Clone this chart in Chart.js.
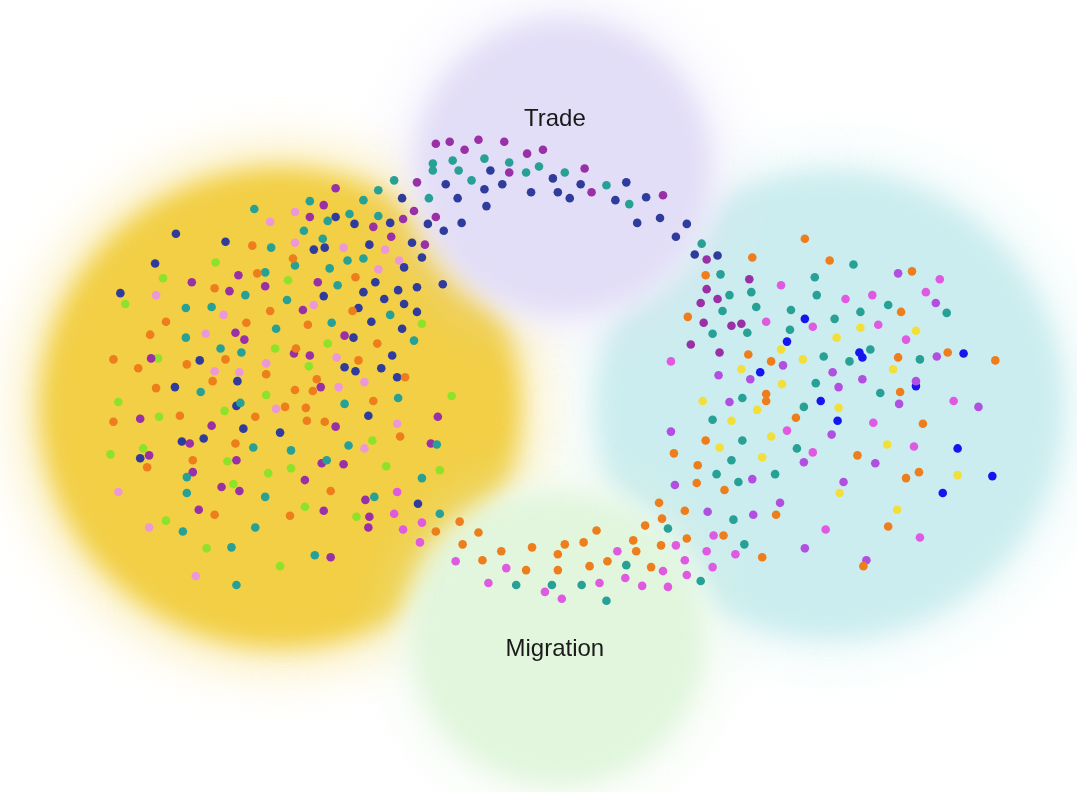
<!DOCTYPE html>
<html><head><meta charset="utf-8">
<script src="https://cdn.jsdelivr.net/npm/chart.js@4"></script>
<style>html,body{margin:0;padding:0;background:#fff;}canvas{display:block;}</style>
</head><body>
<canvas id="c" width="1077" height="792"></canvas>
<script>
// Background regions (data coordinates), in drawing order
const blobNames = ['Core','Partners','Trade','Migration'];
const blobX = [278, 832, 563, 558];
const blobY = [408, 405, 165, 641];
const blobR = [244, 238, 152, 150];
const blobColors = ['#f2cf45', '#ccedef', '#e3def7', '#e1f6dd'];

const labelText = ['Trade', 'Migration'];
const labelX = [555, 555];
const labelY = [116, 652];

// Point series (x, y pairs)
const orange = [[250,244],[255,272],[212,287],[268,310],[163,321],[244,322],[147,334],[110,359],[223,359],[135,368],[184,364],[264,374],[210,381],
[291,257],[354,276],[351,310],[306,324],[376,343],[294,348],[357,360],[315,379],[404,377],
[153,388],[110,422],[177,416],[253,417],[233,444],[144,468],[190,461],[212,516],
[293,390],[311,391],[283,407],[372,401],[304,408],[305,421],[323,422],[399,437],[329,492],[288,517],[435,533],
[459,523],[478,534],[462,546],[482,562],[501,553],[526,572],[532,549],[558,556],[565,546],[558,572],[584,544],[590,568],[597,532],[608,563],[637,553],[634,542],[646,527],
[807,237],[754,256],[832,259],[707,274],[689,316],[750,354],[773,361],[768,394],[768,401],[915,270],[904,311],[901,357],[951,352],[999,360],[903,392],[798,418],[707,441],[675,454],[699,466],[698,484],[726,491],[660,504],[686,512],[778,516],[663,520],[725,537],[688,540],[662,547],[764,559],[652,569],[926,424],[860,456],[922,473],[909,479],[891,528],[866,568]];
const teal = [[252,207],[269,246],[263,271],[243,294],[183,307],[209,306],[274,328],[183,337],[218,348],[239,352],
[393,178],[377,188],[308,199],[362,198],[428,196],[326,219],[348,212],[377,214],[302,229],[321,237],[293,264],[346,259],[362,257],[328,267],[336,284],[285,299],[389,314],[330,322],[413,340],
[198,392],[238,403],[251,448],[184,478],[184,494],[263,498],[180,533],[253,529],[229,549],[234,587],
[397,398],[343,404],[289,451],[347,446],[436,445],[325,461],[421,479],[373,498],[439,515],[313,557],
[432,161],[432,168],[452,158],[458,168],[484,156],[509,160],[471,178],[526,170],[539,164],[565,170],[607,183],[630,202],[703,242],
[722,273],[817,276],[753,291],[731,294],[819,294],[724,310],[758,306],[793,309],[714,333],[749,332],[792,329],[826,356],[818,383],[744,398],[806,407],[856,263],[950,312],[891,304],[863,311],[837,318],[873,349],[852,361],[923,359],[883,393],[714,420],[744,441],[799,449],[733,461],[718,475],[777,475],[740,483],[735,521],[669,530],[746,546],[702,583],
[516,587],[552,587],[582,587],[607,603],[627,567]];
const navy = [[173,232],[223,240],[152,262],[117,292],[197,360],[235,381],[172,387],
[445,182],[401,196],[457,196],[334,215],[353,222],[389,221],[427,222],[443,229],[312,248],[323,246],[368,243],[411,241],[421,256],[403,266],[374,281],[442,283],[416,286],[322,295],[362,291],[397,289],[383,298],[357,307],[403,303],[416,311],[370,321],[401,328],[352,337],[391,355],[343,367],[354,371],[380,368],[396,377],
[234,406],[241,429],[278,433],[179,442],[201,439],[137,459],[367,416],[417,505],
[490,168],[484,187],[502,182],[553,176],[581,182],[627,180],[486,204],[531,190],[558,190],[570,196],[616,198],[647,195],[461,221],[638,221],[661,216],[688,222],[677,235],[696,253],[719,254]];
const purple = [[189,281],[236,274],[263,285],[227,290],[233,332],[242,339],[148,358],
[416,180],[334,186],[322,203],[308,215],[372,225],[402,217],[413,209],[435,215],[390,235],[424,243],[316,281],[301,309],[343,335],[292,353],[308,355],
[137,419],[209,426],[187,444],[146,456],[234,461],[190,473],[219,488],[237,492],[196,511],
[319,387],[437,417],[334,427],[430,444],[320,464],[342,465],[303,481],[364,501],[322,512],[368,518],[367,529],[329,559],
[435,141],[449,139],[464,147],[478,137],[504,139],[527,151],[543,147],[509,170],[585,166],[592,190],[664,193],
[708,258],[751,278],[708,288],[719,298],[702,302],[705,322],[733,325],[743,323],[692,344],[721,352]];
const pink = [[268,220],[153,294],[221,314],[203,333],[212,371],[237,372],[264,363],
[293,210],[293,241],[342,246],[384,248],[398,259],[377,268],[312,304],[335,357],[363,382],
[274,409],[115,493],[146,529],[193,578],[337,387],[396,424],[363,449]];
const lime = [[213,261],[160,277],[122,303],[273,348],[155,358],
[286,279],[421,323],[326,343],[307,366],
[115,402],[264,395],[222,411],[156,417],[140,449],[107,455],[225,462],[266,474],[231,485],[163,522],[204,550],[278,568],
[451,396],[371,441],[289,469],[385,467],[439,471],[303,508],[355,518]];
const magenta = [[396,493],[393,515],[421,524],[402,531],[419,544],[455,563],
[488,585],[506,570],[545,594],[562,601],[600,585],[618,553],[626,580],[643,588],
[783,284],[768,321],[815,326],[672,361],[943,278],[929,291],[848,298],[875,294],[881,324],[909,339],[957,401],[789,431],[815,453],[828,531],[715,537],[677,547],[708,553],[737,556],[686,562],[714,569],[664,573],[688,577],[669,589],[876,423],[917,447],[923,539]];
const violet = [[785,365],[720,375],[752,379],[731,402],[901,272],[939,302],[940,356],[835,372],[865,379],[841,387],[919,381],[902,404],[982,407],[672,432],[806,463],[754,480],[676,486],[782,504],[709,513],[755,516],[807,550],[834,435],[878,464],[846,483],[869,562]];
const blue = [[807,318],[789,341],[762,372],[823,401],[862,352],[865,357],[919,386],[967,353],[840,421],[961,449],[996,477],[946,494]];
const yellow = [[783,349],[805,359],[743,369],[784,384],[704,401],[759,410],[863,327],[919,330],[839,337],[896,369],[841,408],[733,421],[773,437],[721,448],[764,458],[890,445],[961,476],[842,494],[900,511]];

const series = [
  {name:'orange', pts: orange, color:'#ee7d1c'},
  {name:'teal', pts: teal, color:'#27a095'},
  {name:'navy', pts: navy, color:'#2f3c9c'},
  {name:'purple', pts: purple, color:'#9a30a6'},
  {name:'pink', pts: pink, color:'#ec98d8'},
  {name:'lime', pts: lime, color:'#8de22a'},
  {name:'magenta', pts: magenta, color:'#df5ae0'},
  {name:'violet', pts: violet, color:'#b14fe0'},
  {name:'blue', pts: blue, color:'#1515f0'},
  {name:'yellow', pts: yellow, color:'#f2df3a'}
];

const blobPlugin = {
  id: 'blobs',
  beforeDatasetsDraw(chart) {
    const ctx = chart.ctx, xs = chart.scales.x, ys = chart.scales.y;
    ctx.save();
    for (let i = 0; i < blobNames.length; i++) {
      const cx = xs.getPixelForValue(blobX[i]);
      const cy = ys.getPixelForValue(blobY[i]);
      const r = Math.abs(xs.getPixelForValue(blobX[i] + blobR[i]) - cx);
      // faint outer glow of the same hue
      ctx.filter = 'blur(24px)';
      ctx.globalAlpha = 0.3;
      ctx.fillStyle = blobColors[i];
      ctx.beginPath();
      ctx.arc(cx, cy, r + 24, 0, Math.PI * 2);
      ctx.fill();
      // soft white halo
      ctx.filter = 'blur(12px)';
      ctx.globalAlpha = 0.5;
      ctx.fillStyle = '#ffffff';
      ctx.beginPath();
      ctx.arc(cx, cy, r + 7, 0, Math.PI * 2);
      ctx.fill();
      // coloured disc
      ctx.filter = 'blur(12px)';
      ctx.globalAlpha = 1;
      ctx.fillStyle = blobColors[i];
      ctx.beginPath();
      ctx.arc(cx, cy, r, 0, Math.PI * 2);
      ctx.fill();
    }
    ctx.restore();
  },
  afterDatasetsDraw(chart) {
    const ctx = chart.ctx, xs = chart.scales.x, ys = chart.scales.y;
    ctx.save();
    ctx.fillStyle = '#1a1a1a';
    ctx.font = '24px "Liberation Sans", Arial, sans-serif';
    ctx.textAlign = 'center';
    ctx.textBaseline = 'middle';
    for (let i = 0; i < labelText.length; i++) {
      ctx.fillText(labelText[i], xs.getPixelForValue(labelX[i]), ys.getPixelForValue(labelY[i]));
    }
    ctx.restore();
  }
};

new Chart(document.getElementById('c'), {
  type: 'scatter',
  data: {
    datasets: series.map(s => ({
      label: s.name,
      data: s.pts.map(p => ({x: p[0], y: p[1]})),
      backgroundColor: s.color,
      borderColor: s.color,
      borderWidth: 0,
      pointRadius: 4.3
    }))
  },
  options: {
    responsive: false,
    animation: false,
    layout: {padding: 0},
    plugins: {legend: {display: false}, tooltip: {enabled: false}},
    scales: {
      x: {type: 'linear', min: 0, max: 1077, display: false},
      y: {type: 'linear', min: 0, max: 792, reverse: true, display: false}
    }
  },
  plugins: [blobPlugin]
});
</script>
</body></html>
